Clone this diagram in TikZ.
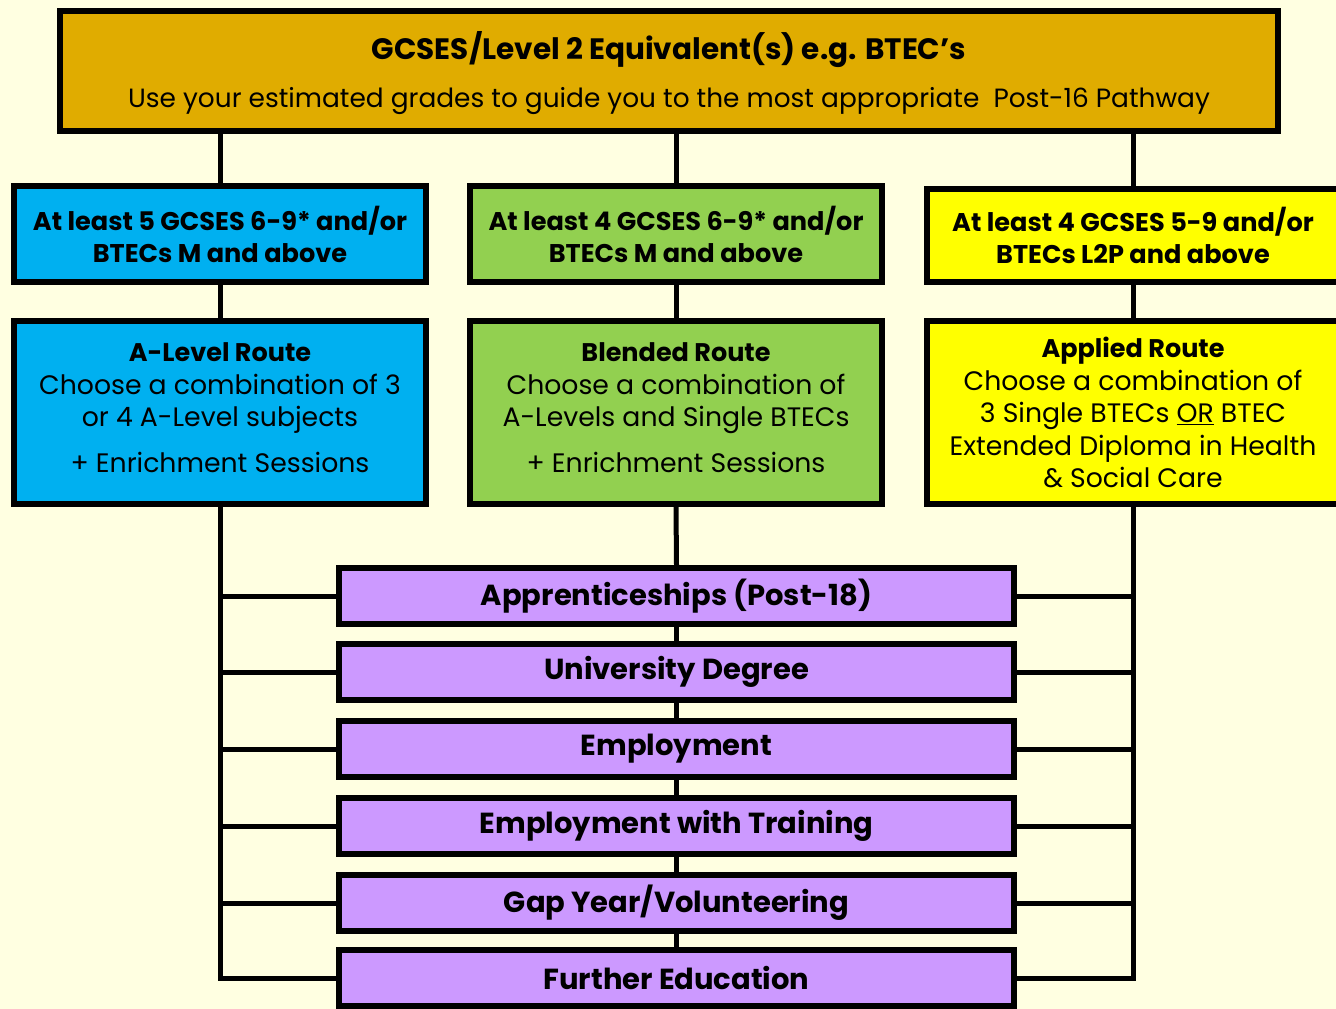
\documentclass[tikz,border=0pt]{standalone}
\usepackage{fontspec}
\setmainfont{Poppins}
\definecolor{bgc}{RGB}{255,255,225}
\definecolor{goldc}{RGB}{224,172,0}
\definecolor{bluec}{RGB}{0,176,240}
\definecolor{greenc}{RGB}{146,208,80}
\definecolor{yellowc}{RGB}{255,255,0}
\definecolor{purplec}{RGB}{204,153,255}
\newcommand\myfsTitle{\fontsize{29.5}{49}\selectfont}
\newcommand\myfsSub{\fontsize{26.4}{49}\selectfont}
\newcommand\myfsReq{\fontsize{25.6}{32}\selectfont}
\newcommand\myfsRoute{\fontsize{26.7}{32.5}\selectfont}
\newcommand\myfsHead{\fontsize{25.5}{32.5}\selectfont}
\newcommand\myfsOut{\fontsize{29}{30}\selectfont}
\begin{document}
\begin{tikzpicture}[x=1pt,y=-1pt,
  box/.style={draw=black, line width=6pt, inner sep=0pt, align=center, text=black},
  topbox/.style={box, fill=goldc, minimum width=1218pt, minimum height=120pt},
  reqbox/.style={box, minimum width=412pt, minimum height=96pt, font=\myfsReq},
  routebox/.style={box, minimum width=412pt, minimum height=183pt, font=\myfsRoute},
  routetext/.style={inner sep=0pt, align=center, text=black, font=\myfsRoute},
  outbox/.style={box, fill=purplec, minimum width=675pt, minimum height=56pt, font=\myfsOut\bfseries},
  conn/.style={draw=black, line width=5pt}]
\fill[bgc] (0,0) rectangle (1336,1009);
\useasboundingbox (0,0) rectangle (1336,1009);

\node[topbox] (top) at (668.5,70.5) {};
\node[inner sep=0pt, anchor=base, font=\myfsTitle\bfseries] (toptitle) at (669,59) {GCSES/Level 2 Equivalent(s) e.g. BTEC’s};
\node[inner sep=0pt, anchor=base, font=\myfsSub] (topsub) at (669,107) {Use your estimated grades to guide you to the most appropriate\ \ Post-16 Pathway};

\node[reqbox, fill=bluec] (c1) at (220,234) {\textbf{At least 5 GCSES 6-9* and/or}\\\textbf{BTECs M and above}};
\node[reqbox, fill=greenc] (c2) at (676,234) {\textbf{At least 4 GCSES 6-9* and/or}\\\textbf{BTECs M and above}};
\node[reqbox, fill=yellowc, minimum height=93pt] (c3) at (1133,235.5) {\textbf{At least 4 GCSES 5-9 and/or}\\\textbf{BTECs L2P and above}};

\node[routebox, fill=bluec] (r1) at (220,412.5) {};
\node[routetext] (r1t) at (220,407.5) {{\myfsHead\textbf{A-Level Route}}\\Choose a combination of 3\\or 4 A-Level subjects\\[13pt]+ Enrichment Sessions};
\node[routebox, fill=greenc] (r2) at (676,412.5) {};
\node[routetext] (r2t) at (676,407.5) {{\myfsHead\textbf{Blended Route}}\\Choose a combination of\\A-Levels and Single BTECs\\[13pt]+ Enrichment Sessions};
\node[routebox, fill=yellowc] (r3) at (1133,412.5) {};
\node[routetext] (r3t) at (1133,412.5) {{\myfsHead\textbf{Applied Route}}\\Choose a combination of\\3 Single BTECs \underline{OR} BTEC\\Extended Diploma in Health\\\& Social Care};

\node[outbox] (p1) at (676.5,596) {Apprenticeships (Post-18)};
\node[outbox] (p2) at (676.5,672) {University Degree};
\node[outbox] (p3) at (676.5,749) {Employment};
\node[outbox] (p4) at (676.5,826) {Employment with Training};
\node[outbox] (p5) at (676.5,903) {Gap Year/Volunteering};
\node[outbox] (p6) at (676.5,978) {Further Education};

% top to requirement boxes
\draw[conn] (c1.north) -- (c1.north |- top.south);
\draw[conn] (c2.north) -- (c2.north |- top.south);
\draw[conn] (c3.north) -- (c3.north |- top.south);
% requirement to route
\draw[conn] (c1.south) -- (r1.north);
\draw[conn] (c2.south) -- (r2.north);
\draw[conn] (c3.south) -- (r3.north);
% middle spine
\draw[conn] (r2.south) -- (p1.north);
\draw[conn] (p1.south) -- (p2.north);
\draw[conn] (p2.south) -- (p3.north);
\draw[conn] (p3.south) -- (p4.north);
\draw[conn] (p4.south) -- (p5.north);
\draw[conn] (p5.south) -- (p6.north);
% left spine
\draw[conn] (r1.south) -- (r1.south |- p6.west) -- (p6.west);
\foreach \n in {p1,p2,p3,p4,p5} \draw[conn] (r1.south |- \n.west) -- (\n.west);
% right spine
\draw[conn] (r3.south) -- (r3.south |- p6.east) -- (p6.east);
\foreach \n in {p1,p2,p3,p4,p5} \draw[conn] (r3.south |- \n.east) -- (\n.east);
\end{tikzpicture}
\end{document}
